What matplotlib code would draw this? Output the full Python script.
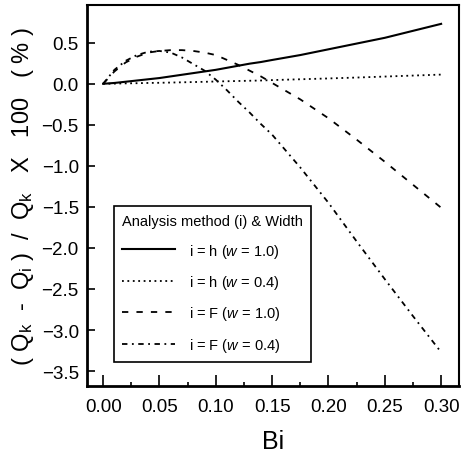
import numpy as np
import matplotlib
matplotlib.use('Agg')
import matplotlib.pyplot as plt
from matplotlib.ticker import MultipleLocator

plt.rcParams['font.family'] = ['Liberation Sans', 'DejaVu Sans']
plt.rcParams['mathtext.fontset'] = 'custom'
plt.rcParams['mathtext.rm'] = 'Liberation Sans'
plt.rcParams['mathtext.it'] = 'Liberation Sans:italic'

# Biot number values
bi = [0, 0.01, 0.02, 0.03, 0.04, 0.05, 0.06, 0.07, 0.08, 0.09, 0.10,
      0.11, 0.12, 0.13, 0.14, 0.15, 0.175, 0.20, 0.225, 0.25, 0.275, 0.30]

# relative error (%) for each method / width
h_w10 = [0, 0.01, 0.025, 0.04, 0.055, 0.07, 0.09, 0.11, 0.13, 0.15, 0.17,
         0.195, 0.22, 0.245, 0.265, 0.29, 0.35, 0.42, 0.49, 0.56, 0.645, 0.73]
h_w04 = [0, 0.002, 0.005, 0.007, 0.01, 0.012, 0.015, 0.018, 0.021, 0.024, 0.028,
         0.031, 0.034, 0.037, 0.04, 0.045, 0.055, 0.065, 0.076, 0.088, 0.10, 0.112]
f_w10 = [0, 0.15, 0.26, 0.33, 0.38, 0.40, 0.41, 0.41, 0.40, 0.38, 0.35,
         0.29, 0.23, 0.16, 0.09, 0.01, -0.19, -0.42, -0.68, -0.95, -1.23, -1.51]
f_w04 = [0, 0.17, 0.28, 0.35, 0.39, 0.40, 0.38, 0.32, 0.24, 0.16, 0.05,
         -0.08, -0.22, -0.35, -0.49, -0.62, -1.02, -1.45, -1.92, -2.38, -2.83, -3.27]

labels = ['i = h ($w$ = 1.0)', 'i = h ($w$ = 0.4)',
          'i = F ($w$ = 1.0)', 'i = F ($w$ = 0.4)']
xtick_vals = [0, 0.05, 0.10, 0.15, 0.20, 0.25, 0.30]
xtick_text = ['0.00', '0.05', '0.10', '0.15', '0.20', '0.25', '0.30']

fig = plt.figure(figsize=(4.61, 4.60), dpi=100)
ax = fig.add_axes([0.189, 0.159, 0.807, 0.828])

ax.plot(bi, h_w10, color='black', lw=1.5, label=labels[0])
ax.plot(bi, h_w04, color='black', lw=1.3, dashes=[1, 2], label=labels[1])
ax.plot(bi, f_w10, color='black', lw=1.3, dashes=[3.5, 4.5], label=labels[2])
ax.plot(bi, f_w04, color='black', lw=1.3, dashes=[3, 2.5, 1, 2.5], label=labels[3])

ax.set_xlim(-0.0142, 0.316)
ax.set_ylim(-3.68, 0.96)
ax.xaxis.set_minor_locator(MultipleLocator(0.025))
ax.yaxis.set_major_locator(MultipleLocator(0.5))
ax.set_xticks(xtick_vals)
ax.set_xticklabels(xtick_text)

ax.tick_params(axis='x', which='major', direction='in', length=8, width=1.2,
               labelsize=13.5, pad=9)
ax.tick_params(axis='x', which='minor', direction='in', length=3, width=1.2)
ax.tick_params(axis='y', which='major', direction='in', length=6, width=1.2,
               labelsize=13.5, pad=6)

for side in ['left', 'bottom']:
    ax.spines[side].set_linewidth(2.0)
for side in ['top', 'right']:
    ax.spines[side].set_linewidth(1.5)

ax.set_xlabel('Bi', fontsize=18, labelpad=10)
ax.set_ylabel(r'( Q$_\mathrm{k}$  -  Q$_\mathrm{i}$ )  /  Q$_\mathrm{k}$   X   100   ( % )',
              fontsize=17, labelpad=4)

leg = ax.legend(loc='lower left', bbox_to_anchor=(0.0726, 0.063), borderaxespad=0,
                title='Analysis method (i) & Width', fontsize=10.5,
                title_fontsize=10.5, fancybox=False, framealpha=1,
                edgecolor='black', handlelength=3.6, handletextpad=1.0,
                labelspacing=0.92, borderpad=0.55)
leg.get_frame().set_linewidth(1.2)
leg._legend_box.align = 'left'

fig.savefig('out.png', dpi=100)
